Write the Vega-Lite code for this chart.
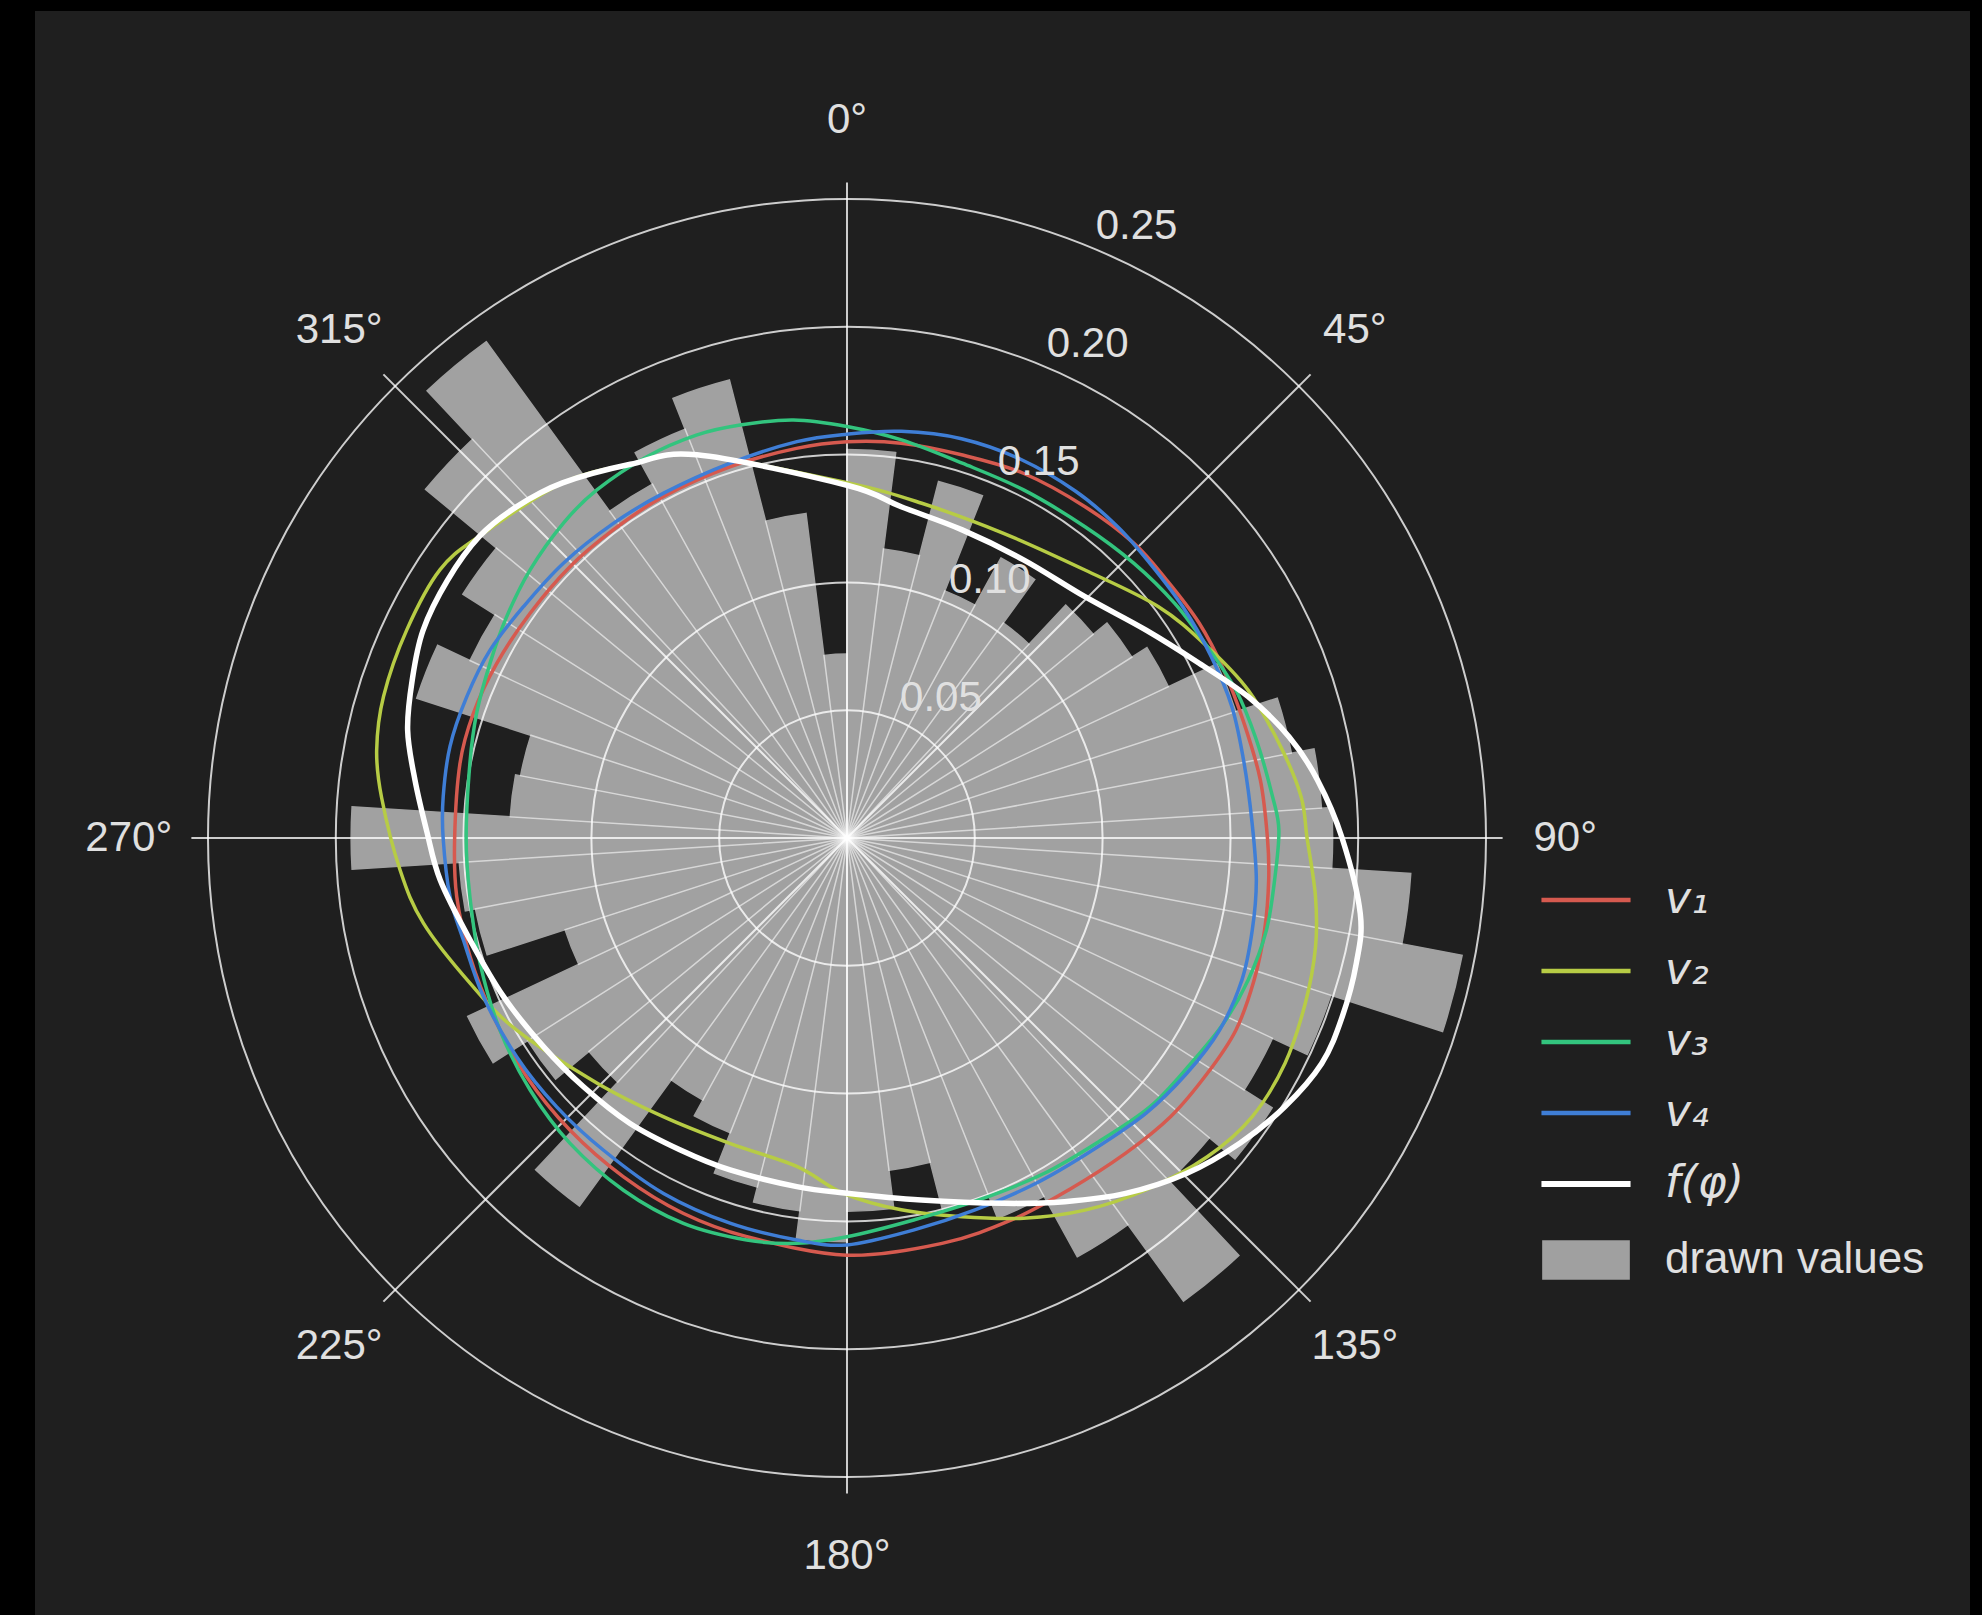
{
  "$schema": "https://vega.github.io/schema/vega-lite/v6.json",
  "width": 1935,
  "height": 1604,
  "autosize": {"type": "none"},
  "padding": {"left": 35, "top": 11, "right": 12, "bottom": 0},
  "background": "#000000",
  "config": {
    "view": {"fill": "#1f1f1f", "stroke": null},
    "legend": {"padding": 0}
  },
  "datasets": {
    "bars": [
      {"a0": 0, "a1": 7.2, "h": 0.152}, {"a0": 7.2, "a1": 14.4, "h": 0.114}, {"a0": 14.4, "a1": 21.6, "h": 0.144},
      {"a0": 21.6, "a1": 28.8, "h": 0.104}, {"a0": 28.8, "a1": 36, "h": 0.125}, {"a0": 36, "a1": 43.2, "h": 0.104},
      {"a0": 43.2, "a1": 50.4, "h": 0.125}, {"a0": 50.4, "a1": 57.6, "h": 0.132}, {"a0": 57.6, "a1": 64.8, "h": 0.139},
      {"a0": 64.8, "a1": 72, "h": 0.160}, {"a0": 72, "a1": 79.2, "h": 0.177}, {"a0": 79.2, "a1": 86.4, "h": 0.186},
      {"a0": 86.4, "a1": 93.6, "h": 0.190}, {"a0": 93.6, "a1": 100.8, "h": 0.221}, {"a0": 100.8, "a1": 108, "h": 0.245},
      {"a0": 108, "a1": 115.2, "h": 0.199}, {"a0": 115.2, "a1": 122.4, "h": 0.184}, {"a0": 122.4, "a1": 129.6, "h": 0.197},
      {"a0": 129.6, "a1": 136.8, "h": 0.184}, {"a0": 136.8, "a1": 144, "h": 0.224}, {"a0": 144, "a1": 151.2, "h": 0.187},
      {"a0": 151.2, "a1": 158.4, "h": 0.160}, {"a0": 158.4, "a1": 165.6, "h": 0.150}, {"a0": 165.6, "a1": 172.8, "h": 0.131},
      {"a0": 172.8, "a1": 180, "h": 0.146}, {"a0": 180, "a1": 187.2, "h": 0.158}, {"a0": 187.2, "a1": 194.4, "h": 0.147},
      {"a0": 194.4, "a1": 201.6, "h": 0.141}, {"a0": 201.6, "a1": 208.8, "h": 0.124}, {"a0": 208.8, "a1": 216, "h": 0.117},
      {"a0": 216, "a1": 223.2, "h": 0.178}, {"a0": 223.2, "a1": 230.4, "h": 0.131}, {"a0": 230.4, "a1": 237.6, "h": 0.148},
      {"a0": 237.6, "a1": 244.8, "h": 0.164}, {"a0": 244.8, "a1": 252, "h": 0.116}, {"a0": 252, "a1": 259.2, "h": 0.148},
      {"a0": 259.2, "a1": 266.4, "h": 0.152}, {"a0": 266.4, "a1": 273.6, "h": 0.194}, {"a0": 273.6, "a1": 280.8, "h": 0.132},
      {"a0": 280.8, "a1": 288, "h": 0.130}, {"a0": 288, "a1": 295.2, "h": 0.177}, {"a0": 295.2, "a1": 302.4, "h": 0.163},
      {"a0": 302.4, "a1": 309.6, "h": 0.178}, {"a0": 309.6, "a1": 316.8, "h": 0.214}, {"a0": 316.8, "a1": 324, "h": 0.240},
      {"a0": 324, "a1": 331.2, "h": 0.158}, {"a0": 331.2, "a1": 338.4, "h": 0.172}, {"a0": 338.4, "a1": 345.6, "h": 0.185},
      {"a0": 345.6, "a1": 352.8, "h": 0.128}, {"a0": 352.8, "a1": 360, "h": 0.072}
    ],
    "rings": [{"r": 0.05}, {"r": 0.10}, {"r": 0.15}, {"r": 0.20}, {"r": 0.25}],
    "spokes": [{"a": 0}, {"a": 45}, {"a": 90}, {"a": 135}, {"a": 180}, {"a": 225}, {"a": 270}, {"a": 315}],
    "tlabels": [
      {"lab": "0°", "a": 0}, {"lab": "45°", "a": 45}, {"lab": "90°", "a": 90}, {"lab": "135°", "a": 135},
      {"lab": "180°", "a": 180}, {"lab": "225°", "a": 225}, {"lab": "270°", "a": 270}, {"lab": "315°", "a": 315}
    ],
    "rlabels": [{"lab": "0.05", "r": 0.05}, {"lab": "0.10", "r": 0.10}, {"lab": "0.15", "r": 0.15}, {"lab": "0.20", "r": 0.20}, {"lab": "0.25", "r": 0.25}],
    "curves": [
      {"s": "v₁", "a": 0, "r": 0.155}, {"s": "v₁", "a": 7.8, "r": 0.1559}, {"s": "v₁", "a": 16.8, "r": 0.1565},
      {"s": "v₁", "a": 25.8, "r": 0.1585}, {"s": "v₁", "a": 35.7, "r": 0.1596}, {"s": "v₁", "a": 44.2, "r": 0.1609},
      {"s": "v₁", "a": 51.1, "r": 0.1607}, {"s": "v₁", "a": 58.6, "r": 0.1614}, {"s": "v₁", "a": 66, "r": 0.1614},
      {"s": "v₁", "a": 73.9, "r": 0.1617}, {"s": "v₁", "a": 82, "r": 0.1633}, {"s": "v₁", "a": 90, "r": 0.1645},
      {"s": "v₁", "a": 95.7, "r": 0.1658}, {"s": "v₁", "a": 102.4, "r": 0.1673}, {"s": "v₁", "a": 109.2, "r": 0.1687},
      {"s": "v₁", "a": 116.3, "r": 0.1697}, {"s": "v₁", "a": 123.1, "r": 0.1684}, {"s": "v₁", "a": 130.7, "r": 0.1671},
      {"s": "v₁", "a": 138.5, "r": 0.1646}, {"s": "v₁", "a": 147.8, "r": 0.1627}, {"s": "v₁", "a": 156.7, "r": 0.1627},
      {"s": "v₁", "a": 166.8, "r": 0.1629}, {"s": "v₁", "a": 180, "r": 0.1632}, {"s": "v₁", "a": 194.1, "r": 0.1608},
      {"s": "v₁", "a": 203.6, "r": 0.1602}, {"s": "v₁", "a": 213.4, "r": 0.1588}, {"s": "v₁", "a": 223.5, "r": 0.1575},
      {"s": "v₁", "a": 233.3, "r": 0.1563}, {"s": "v₁", "a": 243.2, "r": 0.155}, {"s": "v₁", "a": 252.5, "r": 0.1546},
      {"s": "v₁", "a": 261.5, "r": 0.1544}, {"s": "v₁", "a": 270, "r": 0.1535}, {"s": "v₁", "a": 280.9, "r": 0.1542},
      {"s": "v₁", "a": 288.5, "r": 0.1541}, {"s": "v₁", "a": 296.5, "r": 0.1531}, {"s": "v₁", "a": 305.3, "r": 0.152},
      {"s": "v₁", "a": 314.4, "r": 0.1517}, {"s": "v₁", "a": 322.8, "r": 0.1513}, {"s": "v₁", "a": 331.7, "r": 0.1517},
      {"s": "v₁", "a": 342.5, "r": 0.1523}, {"s": "v₁", "a": 352.6, "r": 0.1537},

      {"s": "v₂", "a": 0, "r": 0.139}, {"s": "v₂", "a": 12.6, "r": 0.1342}, {"s": "v₂", "a": 27.2, "r": 0.134},
      {"s": "v₂", "a": 41.6, "r": 0.1402}, {"s": "v₂", "a": 53.4, "r": 0.1518}, {"s": "v₂", "a": 62, "r": 0.1596},
      {"s": "v₂", "a": 69.8, "r": 0.1673}, {"s": "v₂", "a": 78.1, "r": 0.1734}, {"s": "v₂", "a": 84.8, "r": 0.1784},
      {"s": "v₂", "a": 90, "r": 0.180}, {"s": "v₂", "a": 97.1, "r": 0.1847}, {"s": "v₂", "a": 103.1, "r": 0.1882},
      {"s": "v₂", "a": 109.8, "r": 0.1906}, {"s": "v₂", "a": 117.2, "r": 0.1927}, {"s": "v₂", "a": 124.5, "r": 0.1924},
      {"s": "v₂", "a": 131.5, "r": 0.1882}, {"s": "v₂", "a": 139.6, "r": 0.1807}, {"s": "v₂", "a": 147.4, "r": 0.1728},
      {"s": "v₂", "a": 155.1, "r": 0.164}, {"s": "v₂", "a": 163.1, "r": 0.1549}, {"s": "v₂", "a": 171.7, "r": 0.147},
      {"s": "v₂", "a": 180.6, "r": 0.139}, {"s": "v₂", "a": 188.7, "r": 0.130}, {"s": "v₂", "a": 201, "r": 0.128},
      {"s": "v₂", "a": 213.4, "r": 0.1306}, {"s": "v₂", "a": 225.6, "r": 0.137}, {"s": "v₂", "a": 239.8, "r": 0.1495},
      {"s": "v₂", "a": 248.9, "r": 0.158}, {"s": "v₂", "a": 258.6, "r": 0.169}, {"s": "v₂", "a": 265.9, "r": 0.1753},
      {"s": "v₂", "a": 275, "r": 0.1828}, {"s": "v₂", "a": 280.6, "r": 0.1872}, {"s": "v₂", "a": 287, "r": 0.1896},
      {"s": "v₂", "a": 295.3, "r": 0.1905}, {"s": "v₂", "a": 303.4, "r": 0.1907}, {"s": "v₂", "a": 309.5, "r": 0.186},
      {"s": "v₂", "a": 321.3, "r": 0.178}, {"s": "v₂", "a": 329.9, "r": 0.169}, {"s": "v₂", "a": 338.6, "r": 0.161},

      {"s": "v₃", "a": 0, "r": 0.161}, {"s": "v₃", "a": 7.8, "r": 0.1572}, {"s": "v₃", "a": 17.1, "r": 0.1534},
      {"s": "v₃", "a": 26.9, "r": 0.1527}, {"s": "v₃", "a": 37.4, "r": 0.1533}, {"s": "v₃", "a": 46.2, "r": 0.1554},
      {"s": "v₃", "a": 54.4, "r": 0.1577}, {"s": "v₃", "a": 62, "r": 0.1596}, {"s": "v₃", "a": 69.2, "r": 0.1628},
      {"s": "v₃", "a": 76.5, "r": 0.1647}, {"s": "v₃", "a": 84.5, "r": 0.1673}, {"s": "v₃", "a": 89, "r": 0.169},
      {"s": "v₃", "a": 95.6, "r": 0.1681}, {"s": "v₃", "a": 102.4, "r": 0.168}, {"s": "v₃", "a": 109.5, "r": 0.1665},
      {"s": "v₃", "a": 116.2, "r": 0.1642}, {"s": "v₃", "a": 123.2, "r": 0.1609}, {"s": "v₃", "a": 131.5, "r": 0.1585},
      {"s": "v₃", "a": 140.1, "r": 0.1544}, {"s": "v₃", "a": 149.6, "r": 0.1522}, {"s": "v₃", "a": 160, "r": 0.1507},
      {"s": "v₃", "a": 170.1, "r": 0.1517}, {"s": "v₃", "a": 180, "r": 0.156}, {"s": "v₃", "a": 187.1, "r": 0.1598},
      {"s": "v₃", "a": 194, "r": 0.1621}, {"s": "v₃", "a": 203, "r": 0.1638}, {"s": "v₃", "a": 212.4, "r": 0.1632},
      {"s": "v₃", "a": 222.2, "r": 0.1613}, {"s": "v₃", "a": 231.5, "r": 0.1584}, {"s": "v₃", "a": 241, "r": 0.1552},
      {"s": "v₃", "a": 251.1, "r": 0.1517}, {"s": "v₃", "a": 261.2, "r": 0.1493}, {"s": "v₃", "a": 270, "r": 0.149},
      {"s": "v₃", "a": 281.2, "r": 0.1504}, {"s": "v₃", "a": 288.6, "r": 0.1529}, {"s": "v₃", "a": 296.1, "r": 0.1555},
      {"s": "v₃", "a": 303, "r": 0.1588}, {"s": "v₃", "a": 310.2, "r": 0.1624}, {"s": "v₃", "a": 318, "r": 0.1658},
      {"s": "v₃", "a": 324.3, "r": 0.1677}, {"s": "v₃", "a": 332.3, "r": 0.1685}, {"s": "v₃", "a": 339.5, "r": 0.1683},
      {"s": "v₃", "a": 345.5, "r": 0.1669}, {"s": "v₃", "a": 352.7, "r": 0.1649},

      {"s": "v₄", "a": 0, "r": 0.158}, {"s": "v₄", "a": 7.6, "r": 0.1605}, {"s": "v₄", "a": 16, "r": 0.1625},
      {"s": "v₄", "a": 24.7, "r": 0.163}, {"s": "v₄", "a": 33.4, "r": 0.1625}, {"s": "v₄", "a": 41, "r": 0.1614},
      {"s": "v₄", "a": 47.8, "r": 0.16}, {"s": "v₄", "a": 55.5, "r": 0.1595}, {"s": "v₄", "a": 63.5, "r": 0.1592},
      {"s": "v₄", "a": 71.2, "r": 0.1591}, {"s": "v₄", "a": 79.3, "r": 0.1581}, {"s": "v₄", "a": 87.9, "r": 0.1586},
      {"s": "v₄", "a": 95.9, "r": 0.161}, {"s": "v₄", "a": 102.8, "r": 0.1626}, {"s": "v₄", "a": 109.8, "r": 0.1642},
      {"s": "v₄", "a": 117.3, "r": 0.164}, {"s": "v₄", "a": 124.7, "r": 0.1617}, {"s": "v₄", "a": 132.6, "r": 0.159},
      {"s": "v₄", "a": 141.7, "r": 0.1554}, {"s": "v₄", "a": 151.3, "r": 0.154}, {"s": "v₄", "a": 161, "r": 0.1539},
      {"s": "v₄", "a": 170.4, "r": 0.1556}, {"s": "v₄", "a": 180, "r": 0.1592}, {"s": "v₄", "a": 187.1, "r": 0.1585},
      {"s": "v₄", "a": 196.9, "r": 0.1575}, {"s": "v₄", "a": 207.3, "r": 0.1565}, {"s": "v₄", "a": 218, "r": 0.1549},
      {"s": "v₄", "a": 227.2, "r": 0.1548}, {"s": "v₄", "a": 236.5, "r": 0.155}, {"s": "v₄", "a": 246.4, "r": 0.1552},
      {"s": "v₄", "a": 255.1, "r": 0.1553}, {"s": "v₄", "a": 261.6, "r": 0.157}, {"s": "v₄", "a": 270, "r": 0.158},
      {"s": "v₄", "a": 275.8, "r": 0.1588}, {"s": "v₄", "a": 283, "r": 0.1594}, {"s": "v₄", "a": 290.4, "r": 0.1587},
      {"s": "v₄", "a": 297.8, "r": 0.1578}, {"s": "v₄", "a": 305.6, "r": 0.1556}, {"s": "v₄", "a": 314.1, "r": 0.1545},
      {"s": "v₄", "a": 323.4, "r": 0.1533}, {"s": "v₄", "a": 332, "r": 0.1528}, {"s": "v₄", "a": 342.7, "r": 0.1536},
      {"s": "v₄", "a": 352.8, "r": 0.1563},

      {"s": "f(φ)", "a": 0, "r": 0.138}, {"s": "f(φ)", "a": 9.3, "r": 0.1313}, {"s": "f(φ)", "a": 20.5, "r": 0.1287},
      {"s": "f(φ)", "a": 32.4, "r": 0.1289}, {"s": "f(φ)", "a": 44.6, "r": 0.1326}, {"s": "f(φ)", "a": 55.2, "r": 0.1425},
      {"s": "f(φ)", "a": 63.6, "r": 0.1538}, {"s": "f(φ)", "a": 70.6, "r": 0.1664}, {"s": "f(φ)", "a": 77.1, "r": 0.1774},
      {"s": "f(φ)", "a": 83, "r": 0.1855}, {"s": "f(φ)", "a": 90, "r": 0.1937}, {"s": "f(φ)", "a": 98.4, "r": 0.203},
      {"s": "f(φ)", "a": 103.8, "r": 0.2052}, {"s": "f(φ)", "a": 109.9, "r": 0.206}, {"s": "f(φ)", "a": 115.4, "r": 0.2056},
      {"s": "f(φ)", "a": 121.5, "r": 0.201}, {"s": "f(φ)", "a": 127.8, "r": 0.1947}, {"s": "f(φ)", "a": 134.6, "r": 0.1868},
      {"s": "f(φ)", "a": 141.9, "r": 0.1767}, {"s": "f(φ)", "a": 149.1, "r": 0.1658}, {"s": "f(φ)", "a": 156.8, "r": 0.1555},
      {"s": "f(φ)", "a": 168.4, "r": 0.1446}, {"s": "f(φ)", "a": 180, "r": 0.139}, {"s": "f(φ)", "a": 188.2, "r": 0.1378},
      {"s": "f(φ)", "a": 199.4, "r": 0.1377}, {"s": "f(φ)", "a": 208.2, "r": 0.1384}, {"s": "f(φ)", "a": 217.3, "r": 0.1403},
      {"s": "f(φ)", "a": 226.7, "r": 0.1418}, {"s": "f(φ)", "a": 235.5, "r": 0.1441}, {"s": "f(φ)", "a": 245.2, "r": 0.148},
      {"s": "f(φ)", "a": 254.9, "r": 0.1528}, {"s": "f(φ)", "a": 264.1, "r": 0.160}, {"s": "f(φ)", "a": 271, "r": 0.1645},
      {"s": "f(φ)", "a": 277.6, "r": 0.1705}, {"s": "f(φ)", "a": 283.8, "r": 0.177}, {"s": "f(φ)", "a": 290, "r": 0.181},
      {"s": "f(φ)", "a": 296.1, "r": 0.1847}, {"s": "f(φ)", "a": 302.8, "r": 0.186}, {"s": "f(φ)", "a": 309.4, "r": 0.186},
      {"s": "f(φ)", "a": 315.1, "r": 0.183}, {"s": "f(φ)", "a": 321.3, "r": 0.178}, {"s": "f(φ)", "a": 329.9, "r": 0.169},
      {"s": "f(φ)", "a": 338.6, "r": 0.161}
    ]
  },
  "layer": [
    {
      "data": {"name": "bars"},
      "transform": [{"calculate": "0", "as": "ox"}, {"calculate": "0", "as": "oy"}],
      "mark": {"type": "arc", "fill": "#ffffff", "stroke": "#ffffff", "strokeWidth": 1.5, "opacity": 0.58},
      "encoding": {
        "x": {"field": "ox", "type": "quantitative", "scale": {"domain": [-0.31768, 0.43936], "nice": false, "zero": false}, "axis": null},
        "y": {"field": "oy", "type": "quantitative", "scale": {"domain": [-0.30399, 0.32355], "nice": false, "zero": false}, "axis": null},
        "theta": {"field": "a0", "type": "quantitative", "scale": {"domain": [0, 360], "range": [0, 6.283185307179586], "nice": false, "zero": false}},
        "theta2": {"field": "a1"},
        "radius": {"field": "h", "type": "quantitative", "scale": {"type": "linear", "domain": [0, 0.25], "range": [0, 639], "zero": true, "nice": false}}
      }
    },
    {
      "data": {"name": "rings"},
      "transform": [{"calculate": "0", "as": "t0"}, {"calculate": "360", "as": "t1"}, {"calculate": "0", "as": "ox"}, {"calculate": "0", "as": "oy"}],
      "mark": {"type": "arc", "filled": false, "stroke": "#ffffff", "strokeOpacity": 0.78, "strokeWidth": 2},
      "encoding": {
        "x": {"field": "ox", "type": "quantitative", "scale": {"domain": [-0.31768, 0.43936], "nice": false, "zero": false}, "axis": null},
        "y": {"field": "oy", "type": "quantitative", "scale": {"domain": [-0.30399, 0.32355], "nice": false, "zero": false}, "axis": null},
        "theta": {"field": "t0", "type": "quantitative", "scale": {"domain": [0, 360], "range": [0, 6.283185307179586], "nice": false, "zero": false}},
        "theta2": {"field": "t1"},
        "radius": {"field": "r", "type": "quantitative", "scale": {"type": "linear", "domain": [0, 0.25], "range": [0, 639], "zero": true, "nice": false}}
      }
    },
    {
      "data": {"name": "spokes"},
      "transform": [
        {"calculate": "0", "as": "sx"},
        {"calculate": "0", "as": "sy"},
        {"calculate": "0.2565 * sin(datum.a * PI / 180)", "as": "ex"},
        {"calculate": "0.2565 * cos(datum.a * PI / 180)", "as": "ey"}
      ],
      "mark": {"type": "rule", "stroke": "#ffffff", "strokeOpacity": 0.78, "strokeWidth": 2},
      "encoding": {
        "x": {"field": "sx", "type": "quantitative", "scale": {"domain": [-0.31768, 0.43936], "nice": false, "zero": false}, "axis": null},
        "y": {"field": "sy", "type": "quantitative", "scale": {"domain": [-0.30399, 0.32355], "nice": false, "zero": false}, "axis": null},
        "x2": {"field": "ex"},
        "y2": {"field": "ey"}
      }
    },
    {
      "data": {"name": "curves"},
      "transform": [
        {"calculate": "datum.r * sin(datum.a * PI / 180)", "as": "cx"},
        {"calculate": "datum.r * cos(datum.a * PI / 180)", "as": "cy"},
        {"calculate": "datum.s === 'f(φ)' ? 5.5 : 3.5", "as": "lw"}
      ],
      "mark": {"type": "line", "interpolate": "cardinal-closed"},
      "encoding": {
        "x": {"field": "cx", "type": "quantitative", "scale": {"domain": [-0.31768, 0.43936], "nice": false, "zero": false}, "axis": null},
        "y": {"field": "cy", "type": "quantitative", "scale": {"domain": [-0.30399, 0.32355], "nice": false, "zero": false}, "axis": null},
        "order": {"field": "a", "type": "quantitative"},
        "strokeWidth": {"field": "lw", "type": "quantitative", "scale": null},
        "color": {
          "field": "s",
          "type": "nominal",
          "scale": {"domain": ["v₁", "v₂", "v₃", "v₄", "f(φ)", "drawn values"], "range": ["#d65a4f", "#b7cc45", "#33c47e", "#3f7ed6", "#ffffff", "#a0a0a0"]},
          "legend": {
            "orient": "none",
            "legendX": 1529,
            "legendY": 867,
            "title": null,
            "labelFont": "Liberation Sans",
            "labelFontSize": 44,
            "labelLimit": 600,
            "labelColor": "#e0e0e0",
            "symbolSize": 4356,
            "rowPadding": 27,
            "labelOffset": 57,
            "encode": {
              "symbols": {
                "update": {
                  "shape": {"signal": "datum.label === 'drawn values' ? 'M-1.26,-0.53H1.26V0.53H-1.26Z' : 'M-1.35,0H1.35'"},
                  "fill": {"signal": "datum.label === 'drawn values' ? '#a0a0a0' : 'transparent'"},
                  "stroke": {"signal": "datum.label === 'drawn values' ? 'transparent' : scale('color', datum.value)"},
                  "strokeWidth": {"signal": "datum.label === 'f(φ)' ? 6 : 4.5"},
                  "opacity": {"value": 1}
                }
              },
              "labels": {
                "update": {
                  "fontStyle": {"signal": "datum.label === 'drawn values' ? 'normal' : 'italic'"},
                  "font": {"signal": "datum.label === 'drawn values' ? 'Liberation Sans' : 'DejaVu Sans'"}
                }
              }
            }
          }
        }
      }
    },
    {
      "data": {"name": "tlabels"},
      "transform": [
        {"calculate": "0.281 * sin(datum.a * PI / 180)", "as": "tx"},
        {"calculate": "0.281 * cos(datum.a * PI / 180)", "as": "ty"}
      ],
      "mark": {"type": "text", "font": "Liberation Sans", "fontSize": 42, "color": "#e0e0e0", "align": "center", "baseline": "middle"},
      "encoding": {
        "x": {"field": "tx", "type": "quantitative", "scale": {"domain": [-0.31768, 0.43936], "nice": false, "zero": false}, "axis": null},
        "y": {"field": "ty", "type": "quantitative", "scale": {"domain": [-0.30399, 0.32355], "nice": false, "zero": false}, "axis": null},
        "text": {"field": "lab", "type": "nominal"}
      }
    },
    {
      "data": {"name": "rlabels"},
      "transform": [
        {"calculate": "datum.r * sin(22.5 * PI / 180)", "as": "tx"},
        {"calculate": "datum.r * cos(22.5 * PI / 180)", "as": "ty"}
      ],
      "mark": {"type": "text", "font": "Liberation Sans", "fontSize": 42, "color": "#e0e0e0", "align": "center", "baseline": "middle", "dx": 45, "dy": -22},
      "encoding": {
        "x": {"field": "tx", "type": "quantitative", "scale": {"domain": [-0.31768, 0.43936], "nice": false, "zero": false}, "axis": null},
        "y": {"field": "ty", "type": "quantitative", "scale": {"domain": [-0.30399, 0.32355], "nice": false, "zero": false}, "axis": null},
        "text": {"field": "lab", "type": "nominal"}
      }
    }
  ]
}
